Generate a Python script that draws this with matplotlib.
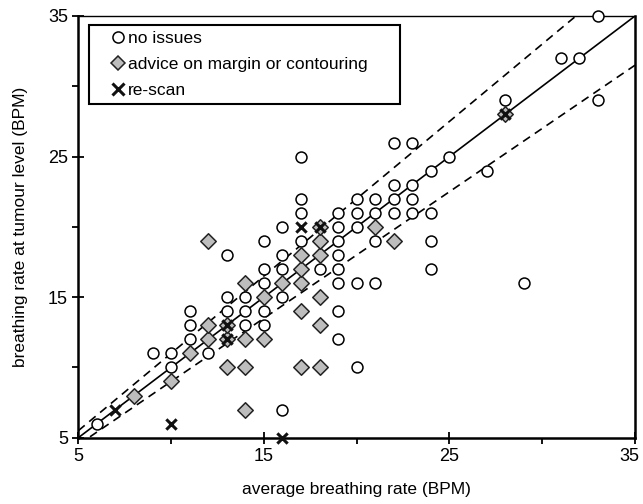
import matplotlib
matplotlib.use("Agg")
import matplotlib.pyplot as plt
from matplotlib.ticker import FixedLocator
from matplotlib.lines import Line2D
from matplotlib.transforms import ScaledTranslation

plt.rcParams['font.family'] = ['Liberation Sans', 'DejaVu Sans']

# data: no issues (circles)
ok_x = [6, 9, 10, 10, 11, 11, 11, 12, 13, 13, 13, 14, 14, 14, 15, 15, 15, 15, 15,
        16, 16, 16, 16, 16, 17, 17, 17, 17, 18, 19, 19, 19, 19, 19, 19, 19, 19,
        20, 20, 20, 20, 20, 21, 21, 21, 21, 22, 22, 22, 22, 23, 23, 23, 23,
        24, 24, 24, 24, 25, 27, 28, 29, 31, 32, 33, 33,
        13, 13, 18, 28]
ok_y = [6, 11, 10, 11, 12, 13, 14, 11, 14, 15, 18, 13, 14, 15, 13, 14, 16, 17, 19,
        7, 15, 17, 18, 20, 19, 21, 22, 25, 17, 12, 14, 16, 17, 18, 19, 20, 21,
        10, 16, 20, 21, 22, 16, 19, 21, 22, 21, 22, 23, 26, 21, 22, 23, 26,
        17, 19, 21, 24, 25, 24, 29, 16, 32, 32, 29, 35,
        12, 13, 20, 28]

# advice on margin or contouring (diamonds)
adv_x = [8, 10, 11, 12, 12, 12, 13, 14, 14, 14, 14, 15, 15, 16, 17, 17, 17, 17, 17,
         18, 18, 18, 18, 18, 21, 22, 13, 13, 18, 28]
adv_y = [8, 9, 11, 12, 13, 19, 10, 7, 10, 12, 16, 12, 15, 16, 10, 14, 16, 17, 18,
         10, 13, 15, 18, 19, 20, 19, 12, 13, 20, 28]

# re-scan (crosses)
rs_x = [7, 10, 16, 17, 18, 13, 13, 28]
rs_y = [7, 6, 5, 20, 20, 12, 13, 28]

major_ticks = [5, 15, 25, 35]
minor_ticks = [10, 20, 30]
line_x = [5, 35]
band = 0.10

fig = plt.figure(figsize=(6.43, 5.04), dpi=100)
ax = fig.add_axes([0.1218, 0.1315, 0.8658, 0.8368])

ax.plot(line_x, line_x, color='black', lw=1.2, zorder=2)
ax.plot(line_x, [v * (1 + band) for v in line_x], color='black', lw=1.2,
        ls=(0, (5, 3.5)), zorder=2)
ax.plot(line_x, [v * (1 - band) for v in line_x], color='black', lw=1.2,
        ls=(0, (5, 3.5)), zorder=2)

ax.scatter(ok_x, ok_y, s=62, marker='o', facecolor='white', edgecolor='black',
           linewidths=1.1, zorder=3, clip_on=False)
ax.scatter(adv_x, adv_y, s=62, marker='D', facecolor='#bdbdbd', edgecolor='#222222',
           linewidths=1.1, zorder=4, clip_on=False)
ax.scatter(rs_x, rs_y, s=55, marker='x', color='#111111', linewidths=2.2,
           zorder=5, clip_on=False)

ax.set_xlim(5, 35)
ax.set_ylim(5, 35)
ax.xaxis.set_major_locator(FixedLocator(major_ticks))
ax.yaxis.set_major_locator(FixedLocator(major_ticks))
ax.xaxis.set_minor_locator(FixedLocator(minor_ticks))
ax.yaxis.set_minor_locator(FixedLocator(minor_ticks))
ax.tick_params(which='major', direction='inout', length=9, width=1.3,
               labelsize=13, pad=3)
ax.tick_params(which='minor', direction='out', length=4.5, width=1.3)

# keep the last x tick label inside the canvas
fig.canvas.draw()
last_lbl = ax.get_xticklabels()[-1]
last_lbl.set_transform(last_lbl.get_transform() +
                       ScaledTranslation(-4 / 72, 0, fig.dpi_scale_trans))

for side in ['left', 'bottom', 'right']:
    ax.spines[side].set_linewidth(1.8)
ax.spines['top'].set_linewidth(1.0)

ax.set_xlabel('average breathing rate (BPM)', fontsize=12.5, labelpad=12)
ax.set_ylabel('breathing rate at tumour level (BPM)', fontsize=12.5, labelpad=14)

handles = [
    Line2D([], [], ls='none', marker='o', markersize=8, markerfacecolor='white',
           markeredgecolor='black', markeredgewidth=1.1),
    Line2D([], [], ls='none', marker='D', markersize=7, markerfacecolor='#bdbdbd',
           markeredgecolor='#222222', markeredgewidth=1.1),
    Line2D([], [], ls='none', marker='x', markersize=8, color='#111111',
           markeredgewidth=2.2),
]
labels = ['no issues', 'advice on margin or contouring', 're-scan']
leg = ax.legend(handles, labels, loc='upper left',
                bbox_to_anchor=(0.0192, 0.0, 0.5586, 0.9787), mode='expand',
                borderaxespad=0, fancybox=False, framealpha=1, edgecolor='black',
                fontsize=12.5, borderpad=0.35, handlelength=2.6,
                handletextpad=-0.7, labelspacing=0.62)
leg.get_frame().set_linewidth(1.5)

fig.savefig('out.png', dpi=100)
